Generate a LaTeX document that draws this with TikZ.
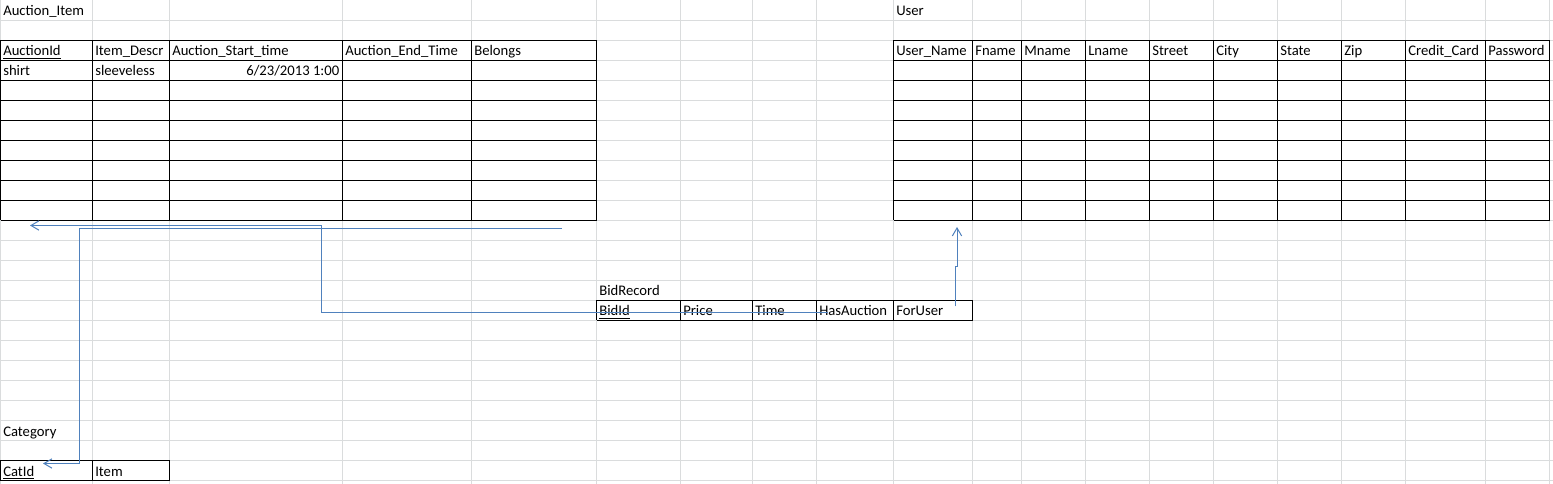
\documentclass[tikz,border=0pt]{standalone}
\usepackage{fontspec}
\setmainfont{Carlito}
\usetikzlibrary{arrows.meta}
\definecolor{gridgray}{RGB}{218,220,221}
\definecolor{linkblue}{RGB}{79,129,189}
\begin{document}
\begin{tikzpicture}[x=0.75pt,y=-0.75pt,
 gridline/.style={draw=gridgray,line width=0.75pt},
 border/.style={draw=black,line width=0.75pt},
 txt/.style={anchor=base west,inner sep=0pt,font=\fontsize{11}{13}\selectfont},
 link/.style={draw=linkblue,line width=0.75pt,-{Straight Barb[length=6pt,width=7pt,line width=0.75pt]}}]
 \useasboundingbox[fill=white](0,0) rectangle (1553,484);
 \foreach \gx in {0.5,92.5,169.5,342.5,471.5,596.5,680.5,752.5,816.5,893.5,972.5,1021.5,1085.5,1149.5,1213.5,1277.5,1341.5,1405.5,1485.5,1549.5}
  \draw[gridline](\gx,0)--(\gx,484);
 \foreach \gy in {20.5,40.5,...,480.5}
  \draw[gridline](0,\gy)--(1553,\gy);
 \foreach \cx in {0.5,92.5,169.5,342.5,471.5,596.5}
  \draw[border](\cx,40.5)--(\cx,220.5);
 \foreach \cy in {40.5,60.5,...,220.5}
  \draw[border](0.5,\cy)--(596.5,\cy);
 \foreach \cx in {893.5,972.5,1021.5,1085.5,1149.5,1213.5,1277.5,1341.5,1405.5,1485.5,1549.5}
  \draw[border](\cx,40.5)--(\cx,220.5);
 \foreach \cy in {40.5,60.5,...,220.5}
  \draw[border](893.5,\cy)--(1549.5,\cy);
 \foreach \cx in {596.5,680.5,752.5,816.5,893.5,972.5}
  \draw[border](\cx,300.5)--(\cx,320.5);
 \draw[border](596.5,300.5)--(972.5,300.5) (596.5,320.5)--(972.5,320.5);
 \foreach \cx in {0.5,92.5,169.5}
  \draw[border](\cx,460.5)--(\cx,480.5);
 \draw[border](0.5,460.5)--(169.5,460.5) (0.5,480.5)--(169.5,480.5);
 \node[txt](aititle) at (3,16) {Auction\_Item};
 \foreach \x/\t/\n in {3/\underline{AuctionId}/aiid,95/Item\_Descr/aidescr,172/Auction\_Start\_time/aistart,345/Auction\_End\_Time/aiend,474/Belongs/aibel}
  \node[txt](\n) at (\x,56) {\t};
 \node[txt](aishirt) at (3,76) {shirt};
 \node[txt](aisleeve) at (95,76) {sleeveless};
 \node[txt,anchor=base east](aidate) at (339.5,76) {6/23/2013 1:00};
 \node[txt](ustitle) at (896,16) {User};
 \foreach \x/\t/\n in {896/\underline{User\_Name}/usname,975/Fname/usfname,1024/Mname/usmname,1088/Lname/uslname,1152/Street/usstreet,1216/City/uscity,1280/State/usstate,1344/Zip/uszip,1408/Credit\_Card/uscard,1488/Password/uspass}
  \node[txt](\n) at (\x,56) {\t};
 \node[txt](brtitle) at (599,296) {BidRecord};
 \foreach \x/\t/\n in {599/\underline{BidId}/brid,683/Price/brprice,755/Time/brtime,819/HasAuction/brhas,896/ForUser/brfor}
  \node[txt](\n) at (\x,316) {\t};
 \node[txt](cttitle) at (3,436) {Category};
 \node[txt](ctid) at (3,476) {\underline{CatId}};
 \node[txt](ctitem) at (95,476) {Item};
 \coordinate (hasend) at (828,312.5);
 \coordinate (hasbend) at (321.5,225.5);
 \coordinate (aitip) at (30,225.5);
 \coordinate (belend) at (562,228.5);
 \coordinate (belbend) at (79.5,463.5);
 \coordinate (cttip) at (43,463.5);
 \coordinate (forend) at (955.5,306.5);
 \coordinate (ustip) at (957,227);
 \draw[link](hasend)-|(hasbend)--(aitip);
 \draw[link](belend)-|(belbend)--(cttip);
 \draw[link](forend)--++(0,-40)-|(ustip);
\end{tikzpicture}
\end{document}
